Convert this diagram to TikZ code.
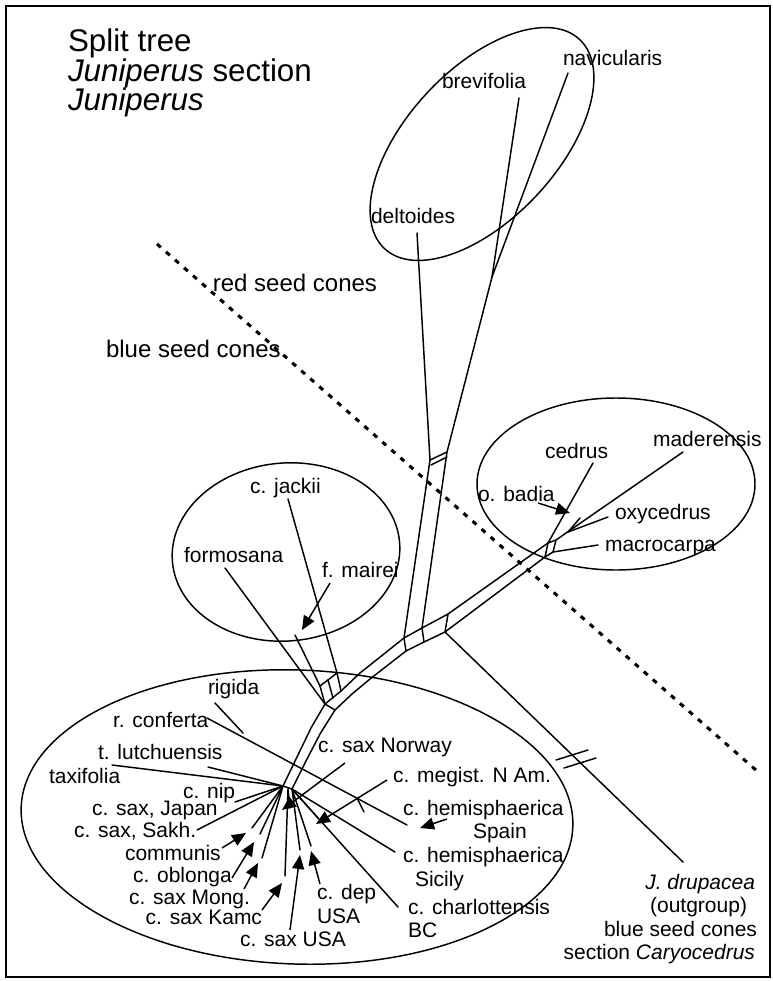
\documentclass[tikz,border=0pt]{standalone}
\usepackage{fontspec}
\setmainfont{Liberation Sans}
\usetikzlibrary{arrows.meta}
\begin{document}
\begin{tikzpicture}[x=0.75pt,y=-0.75pt,
  lbl/.style={font=\fontsize{15.75}{18}\selectfont,inner sep=0pt,outer sep=0pt,anchor=base west},
  lble/.style={lbl,anchor=base east},
  sepl/.style={font=\fontsize{18}{21}\selectfont,inner sep=0pt,outer sep=0pt,anchor=base west},
  ttl/.style={font=\fontsize{23.5}{28}\selectfont,inner sep=0pt,outer sep=0pt,anchor=base west},
  br/.style={line width=1.1pt,line join=round,line cap=round},
  arr/.style={line width=1.1pt,-{Triangle[length=10.5pt,width=9pt]}},
  ell/.style={line width=1.1pt},
  dots/.style={line width=2.3pt,dash pattern=on 3.8pt off 5.2pt}
]
\useasboundingbox (0,0) rectangle (773,981);
\fill[white] (0,0) rectangle (773,981);
\draw[line width=1.6pt] (6,6) rectangle (770,977);

% ---------- title ----------
\node[ttl] (t1) at (68,52) {Split tree};
\node[ttl] (t2) at (68,82) {\textit{Juniperus} section};
\node[ttl] (t3) at (68,110) {\textit{Juniperus}};

% ---------- ellipses ----------
\draw[ell,rotate around={47:(482,144)}] (482,144) ellipse [x radius=107.25pt, y radius=56.25pt];
\draw[ell] (616,484) ellipse [x radius=104.25pt, y radius=64.5pt];
\draw[ell,rotate around={5:(286,552)}] (286,552) ellipse [x radius=85.5pt, y radius=66.75pt];
\draw[ell,rotate around={-2:(297,817)}] (297,817) ellipse [x radius=207pt, y radius=110.25pt];

% ---------- separator ----------
\coordinate (dA) at (157,244);
\coordinate (dB) at (757,771);
\draw[dots] (dA) -- (dB);
\node[sepl,anchor=base east] (red) at (377,291) {red seed cones};
\node[sepl] (blue) at (106,357) {blue seed cones};

% ---------- labels ----------
\node[lbl] (brev) at (442,89) {brevifolia};
\node[lbl] (navi) at (563,65) {navicularis};
\node[lbl] (delt) at (371,223) {deltoides};
\node[lbl] (jack) at (250,493) {c. jackii};
\node[lbl] (form) at (184,562) {formosana};
\node[lbl] (mair) at (322,577) {f. mairei};
\node[lbl] (cedr) at (545,458) {cedrus};
\node[lbl] (made) at (653,446) {maderensis};
\node[lbl] (obad) at (478,501) {o. badia};
\node[lbl] (oxyc) at (615,519) {oxycedrus};
\node[lbl] (macr) at (605,551) {macrocarpa};
\node[lbl] (rigi) at (208,694) {rigida};
\node[lbl] (conf) at (113,727) {r. conferta};
\node[lbl] (tlut) at (98,759) {t. lutchuensis};
\node[lbl] (taxi) at (49,783) {taxifolia};
\node[lbl] (cnip) at (183,798) {c. nip};
\node[lbl] (japa) at (92,815) {c. sax, Japan};
\node[lbl] (sakh) at (74,837) {c. sax, Sakh.};
\node[lbl] (comm) at (125,860) {communis};
\node[lbl] (oblo) at (133,882) {c. oblonga};
\node[lble] (mong) at (250,904) {c. sax Mong.};
\node[lble] (kamc) at (262,924) {c. sax Kamc};
\node[lbl] (susa) at (240,946) {c. sax USA};
\node[lbl] (cdep) at (317,899) {c. dep};
\node[lbl] (dusa) at (317,923) {USA};
\node[lbl] (char) at (408,914) {c. charlottensis};
\node[lbl] (chbc) at (408,937) {BC};
\node[lbl] (hsic) at (403,862) {c. hemisphaerica};
\node[lbl] (sici) at (415,886) {Sicily};
\node[lbl] (hspa) at (403,815) {c. hemisphaerica};
\node[lbl] (spai) at (473,838) {Spain};
\node[lbl] (megi) at (393,782) {c. megist. N Am.};
\node[lbl] (norw) at (318,752) {c. sax Norway};
\node[lble] (drup) at (755,889) {\textit{J. drupacea}};
\node[lble] (outg) at (747,912) {(outgroup)};
\node[lble] (blsc) at (757,936) {blue seed cones};
\node[lble] (cary) at (755,959) {section \textit{Caryocedrus}};

% ---------- top clade ----------
\coordinate (brevE) at (519,98);
\coordinate (naviE) at (568,73);
\coordinate (deltE) at (417,233);
\coordinate (jBN) at (492,277);
\coordinate (bTR) at (447,452);
\coordinate (bTL) at (430,460);
\coordinate (bTR2) at (447,457);
\coordinate (bTL2) at (431,465);
\draw[br] (brevE) -- (jBN);
\draw[br] (naviE) -- (jBN);
\draw[br] (jBN) -- (bTR);
\draw[br] (deltE) -- (bTL);
\draw[br] (bTL) -- (bTR);
\draw[br] (bTL2) -- (bTR2);

% ---------- trunk ----------
\coordinate (u1) at (283,786);
\coordinate (u2) at (297,757);
\coordinate (u3) at (311,728);
\coordinate (u4) at (325,704);
\coordinate (u5) at (341,691);
\coordinate (u6) at (360,673);
\coordinate (u7) at (404,638);
\coordinate (u8) at (422,628);
\coordinate (u9) at (448,614);
\coordinate (uA) at (548,543);
\coordinate (l1) at (292,789);
\coordinate (l2) at (306,761);
\coordinate (l3) at (320,734);
\coordinate (l4) at (335,710);
\coordinate (l5) at (352,694);
\coordinate (l6) at (370,679);
\coordinate (l7) at (406,651);
\coordinate (l8) at (424,642);
\coordinate (l9) at (445,632);
\coordinate (lB) at (545,557);
\draw[br] (u1) -- (u2) -- (u3) -- (u4) -- (u5) -- (u6) -- (u7) -- (u8) -- (u9) -- (uA);
\draw[br] (l1) -- (l2) -- (l3) -- (l4) -- (l5) -- (l6) -- (l7) -- (l8) -- (l9) -- (lB);
\draw[br] (bTL) -- (u7);
\draw[br] (bTR) -- (u8);
\draw[br] (u7) -- (l7);
\draw[br] (u8) -- (l8);
\draw[br] (u9) -- (l9);
\draw[br] (u4) -- (l4);

% ---------- right clade ----------
\coordinate (rC) at (556,540);
\coordinate (rD) at (553,552);
\coordinate (cedE) at (593,463);
\coordinate (madE) at (683,452);
\coordinate (oxJ) at (568,532);
\coordinate (oxE) at (608,517);
\coordinate (oxT) at (580,518);
\coordinate (macE) at (598,545);
\draw[br] (uA) -- (lB);
\draw[br] (uA) -- (rC);
\draw[br] (lB) -- (rD);
\draw[br] (rC) -- (rD);
\draw[br] (uA) -- (cedE);
\draw[br] (rC) -- (madE);
\draw[br] (oxJ) -- (oxE);
\draw[br] (oxJ) -- (oxT);
\draw[br] (rD) -- (macE);

% ---------- outgroup ----------
\coordinate (outE) at (683,862);
\draw[br] (l9) -- (outE);
\coordinate (k1a) at (556,760);
\coordinate (k1b) at (588,750);
\coordinate (k2a) at (564,768);
\coordinate (k2b) at (596,758);
\draw[br] (k1a) -- (k1b);
\draw[br] (k2a) -- (k2b);

% ---------- formosana clade ----------
\coordinate (formE) at (225,568);
\coordinate (mairE) at (295,635);
\coordinate (jackE) at (288,499);
\coordinate (fA) at (320,686);
\coordinate (fB) at (337,673);
\coordinate (fM) at (328,680);
\coordinate (fM2) at (333,698);
\coordinate (fB2) at (341,691);
\draw[br] (formE) -- (u4);
\draw[br] (mairE) -- (fA);
\draw[br] (jackE) -- (fB);
\draw[br] (fA) -- (fB);
\draw[br] (fA) -- (u4);
\draw[br] (fM) -- (fM2);
\draw[br] (fB) -- (fB2);

% ---------- lower star ----------
\coordinate (rigE) at (215,703);
\coordinate (conE) at (207,718);
\coordinate (rcJ) at (243,733);
\coordinate (spaE) at (407,825);
\coordinate (rg1) at (357,798);
\coordinate (rg2) at (364,812);
\draw[br] (rigE) -- (rcJ);
\draw[br] (conE) -- (spaE);
\draw[br] (rg1) -- (rg2);

\coordinate (tlE) at (208,767);
\coordinate (txE) at (112,765);
\coordinate (npE) at (235,802);
\coordinate (skE) at (197,830);
\coordinate (la) at (252,828);
\coordinate (lb) at (260,834);
\coordinate (lc) at (262,858);
\coordinate (ld) at (285,876);
\coordinate (lg) at (290,808);
\coordinate (le) at (300,850);
\coordinate (lf) at (311,846);
\coordinate (lh) at (318,818);
\coordinate (siE) at (395,852);
\coordinate (chE) at (398,907);
\coordinate (sm) at (288,789);
\draw[br] (tlE) -- (u1);
\draw[br] (txE) -- (u1);
\draw[br] (npE) -- (u1);
\draw[br] (skE) -- (u1);
\draw[br] (u1) -- (la);
\draw[br] (u1) -- (lb);
\draw[br] (u1) -- (lc);
\draw[br] (sm) -- (ld);
\draw[br] (sm) -- (lg);
\draw[br] (l1) -- (le);
\draw[br] (l1) -- (lf);
\draw[br] (l1) -- (lh);
\draw[br] (l1) -- (siE);
\draw[br] (l1) -- (chE);
\draw[br] (u1) -- (l1);

% ---------- arrows ----------
\coordinate (aMa0) at (330,583); \coordinate (aMa1) at (302,630);
\coordinate (aOb0) at (538,503); \coordinate (aOb1) at (570,513);
\coordinate (aNo0) at (345,763); \coordinate (aNo1) at (282,810);
\coordinate (aMe0) at (387,780); \coordinate (aMe1) at (316,824);
\coordinate (aSp0) at (447,819); \coordinate (aSp1) at (420,828);
\coordinate (aCo0) at (222,848); \coordinate (aCo1) at (246,833);
\coordinate (aOl0) at (232,878); \coordinate (aOl1) at (254,842);
\coordinate (aMo0) at (244,889); \coordinate (aMo1) at (258,863);
\coordinate (aKa0) at (262,910); \coordinate (aKa1) at (282,883);
\coordinate (aUs0) at (290,930); \coordinate (aUs1) at (300,855);
\coordinate (aDe0) at (320,884); \coordinate (aDe1) at (311,851);
\draw[arr] (aMa0) -- (aMa1);
\draw[arr] (aOb0) -- (aOb1);
\draw[arr] (aNo0) -- (aNo1);
\draw[arr] (aMe0) -- (aMe1);
\draw[arr] (aSp0) -- (aSp1);
\draw[arr] (aCo0) -- (aCo1);
\draw[arr] (aOl0) -- (aOl1);
\draw[arr] (aMo0) -- (aMo1);
\draw[arr] (aKa0) -- (aKa1);
\draw[arr] (aUs0) -- (aUs1);
\draw[arr] (aDe0) -- (aDe1);
\end{tikzpicture}
\end{document}
